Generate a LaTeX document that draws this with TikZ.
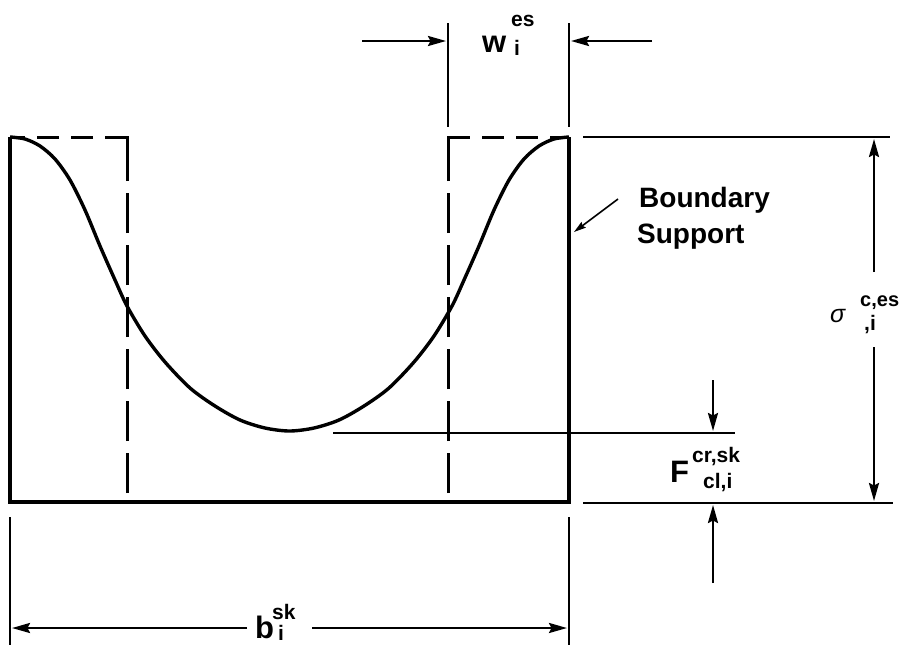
\documentclass[tikz,border=0pt]{standalone}
\usepackage{fontspec}
\setmainfont{Liberation Sans}
\usetikzlibrary{arrows.meta}
\begin{document}
\begin{tikzpicture}[x=1pt,y=-1pt,
  thickline/.style={line width=3.4pt},
  thinline/.style={line width=1.5pt},
  dashh/.style={line width=3pt, dash pattern=on 22pt off 12pt},
  dashv/.style={line width=3pt, dash pattern=on 40pt off 12pt},
  dimarrow/.style={line width=2.4pt,-{Stealth[length=18pt,width=10pt,inset=2.5pt]}},
  ptrarrow/.style={line width=1.6pt,-{Stealth[length=12pt,width=7pt,inset=1.5pt]}},
  lbl/.style={inner sep=0pt, anchor=base west, font=\bfseries\fontsize{31}{36}\selectfont},
  sublbl/.style={inner sep=0pt, anchor=base west, font=\bfseries\fontsize{21}{25}\selectfont},
  txt/.style={inner sep=0pt, anchor=base west, font=\bfseries\fontsize{28}{34}\selectfont}]
\useasboundingbox (0,0) rectangle (899,645);

% boundary support (open-top box)
\draw[thickline, line join=miter] (10,137) -- (10,502) -- (569,502) -- (569,137);

% stress distribution curve
\draw[thickline] plot[smooth] coordinates {
 (10,137) (25,139) (40,146) (55,159) (70,180) (85,210) (100,246) (115,280)
 (127,306) (145,336) (165,362) (190,388) (215,406) (240,420) (265,428) (289.5,431)
 (314,428) (339,420) (364,406) (389,388) (414,362) (434,336) (452,306) (464,280)
 (479,246) (494,210) (509,180) (524,159) (539,146) (554,139) (569,137)};

% equivalent effective widths (dashed)
\draw[dashh] (127,137) -- (10,137);
\draw[dashv] (127,493) -- (127,137);
\draw[line width=3pt] (127,147) -- (127,137) -- (117,137);
\draw[dashh] (448,137) -- (569,137);
\draw[dashv] (448,493) -- (448,137);
\draw[line width=3pt] (448,147) -- (448,137) -- (458,137);

% extension lines
\draw[thinline] (583,137) -- (890,137);
\draw[thinline] (333,433) -- (735,433);
\draw[thinline] (583,503) -- (893,503);
\draw[thinline] (448,23) -- (448,127);
\draw[thinline] (569,23) -- (569,127);
\draw[thinline] (10,517) -- (10,645);
\draw[thinline] (569,517) -- (569,645);

% w label and arrows
\coordinate (wa0) at (362,41); \coordinate (wa1) at (446,41);
\coordinate (wb0) at (652,41); \coordinate (wb1) at (571,41);
\draw[dimarrow] (wa0) -- (wa1);
\draw[dimarrow] (wb0) -- (wb1);
\node[lbl] (w) at (482,52) {w};
\node[sublbl] (wsup) at (511,27) {es};
\node[sublbl] (wsub) at (514,55) {i};

% b label and arrows
\coordinate (ba0) at (247,628); \coordinate (ba1) at (12,628);
\coordinate (bb0) at (312,628); \coordinate (bb1) at (567,628);
\draw[dimarrow] (ba0) -- (ba1);
\draw[dimarrow] (bb0) -- (bb1);
\node[lbl] (b) at (255,638) {b};
\node[sublbl] (bsup) at (272,619) {sk};
\node[sublbl] (bsub) at (278,640) {i};

% F label and arrows
\coordinate (fa0) at (713,380); \coordinate (fa1) at (713,431);
\coordinate (fb0) at (713,583); \coordinate (fb1) at (713,505);
\draw[dimarrow] (fa0) -- (fa1);
\draw[dimarrow] (fb0) -- (fb1);
\node[lbl] (F) at (670,482) {F};
\node[sublbl] (Fsup) at (692,462) {cr,sk};
\node[sublbl] (Fsub) at (703,488) {cl,i};

% sigma label and arrows
\coordinate (sa0) at (874,272); \coordinate (sa1) at (874,139);
\coordinate (sb0) at (874,347); \coordinate (sb1) at (874,501);
\draw[dimarrow] (sa0) -- (sa1);
\draw[dimarrow] (sb0) -- (sb1);
\node[inner sep=0pt, anchor=base west, font=\itshape\fontsize{25}{28}\selectfont] (sig) at (830,322) {σ};
\node[sublbl, font=\bfseries\fontsize{20}{24}\selectfont] (ssup) at (860,306) {c,es};
\node[sublbl] (ssub) at (864,330) {,i};

% Boundary Support label
\node[txt] (bs1) at (639,207) {Boundary};
\node[txt] (bs2) at (637,243) {Support};
\coordinate (bsp) at (574,232);
\coordinate (bst) at (618,199);
\draw[ptrarrow] (bst) -- (bsp);
\end{tikzpicture}
\end{document}
